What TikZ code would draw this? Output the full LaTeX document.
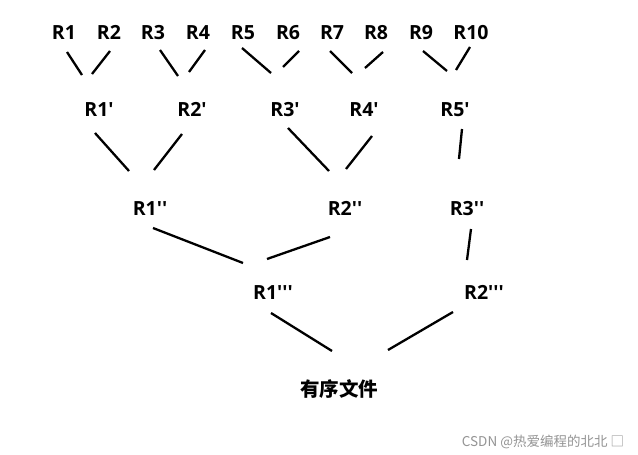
\documentclass[tikz,border=0pt]{standalone}
\usepackage{fontspec}
\usetikzlibrary{calc}
\newfontfamily\labf{Open Sans}
\newfontfamily\cjk{Noto Sans CJK SC}
\tikzset{
  lab/.style={inner sep=0pt, text height=14pt, text depth=0pt, anchor=center, font=\labf\bfseries\fontsize{19.5pt}{20pt}\selectfont},
  link/.style={line width=2.3pt, black},
  wm/.style={inner sep=0pt, anchor=base, text=black!42, font=\cjk\fontsize{13.5pt}{14pt}\selectfont}
}
\begin{document}
\begin{tikzpicture}[x=1pt,y=-1pt]
\useasboundingbox[fill=white] (0,0) rectangle (638,455);
% top row
\node[lab] (R1) at (64,32) {R1};
\node[lab] (R2) at (109,32) {R2};
\node[lab] (R3) at (153,32) {R3};
\node[lab] (R4) at (198,32) {R4};
\node[lab] (R5) at (243,32) {R5};
\node[lab] (R6) at (288,32) {R6};
\node[lab] (R7) at (332,32) {R7};
\node[lab] (R8) at (376,32) {R8};
\node[lab] (R9) at (421,32) {R9};
\node[lab] (R10) at (471,32) {R10};
% second row
\node[lab] (P1) at (99,109) {R1'};
\node[lab] (P2) at (192,109) {R2'};
\node[lab] (P3) at (285,109) {R3'};
\node[lab] (P4) at (364,109) {R4'};
\node[lab] (P5) at (455,109) {R5'};
% third row
\node[lab] (Q1) at (150,208) {R1''};
\node[lab] (Q2) at (345,208) {R2''};
\node[lab] (Q3) at (467,208) {R3''};
% fourth row
\node[lab] (T1) at (273,292) {R1'''};
\node[lab] (T2) at (484,292) {R2'''};
% result
\node[lab, font=\cjk\bfseries\fontsize{19.5pt}{20pt}\selectfont] (F) at (339,389) {有序文件};
% watermark
\node[wm] (W) at (543,446) {CSDN @热爱编程的北北 □};
% connectors
\draw[link] ($(R1)+(3,20)$) -- ($(P1)+(-17,-34)$);
\draw[link] ($(R2)+(1,19)$) -- ($(P1)+(-7,-35)$);
\draw[link] ($(R3)+(7,18)$) -- ($(P2)+(-14,-33)$);
\draw[link] ($(R4)+(7,18)$) -- ($(P2)+(-3,-37)$);
\draw[link] ($(R5)+(-1,16)$) -- ($(P3)+(-14,-36)$);
\draw[link] ($(R6)+(11,19)$) -- ($(P3)+(-2,-42)$);
\draw[link] ($(R7)+(-2,19)$) -- ($(P4)+(-12,-36)$);
\draw[link] ($(R8)+(7,20)$) -- ($(P4)+(1,-41)$);
\draw[link] ($(R9)+(2,19)$) -- ($(P5)+(-8,-38)$);
\draw[link] ($(R10)+(-1,15)$) -- ($(P5)+(1,-39)$);
\draw[link] ($(P1)+(-4,24)$) -- ($(Q1)+(-21,-37)$);
\draw[link] ($(P2)+(-10,25)$) -- ($(Q1)+(4,-38)$);
\draw[link] ($(P3)+(3,19)$) -- ($(Q2)+(-16,-37)$);
\draw[link] ($(P4)+(8,27)$) -- ($(Q2)+(1,-39)$);
\draw[link] ($(P5)+(7,20)$) -- ($(Q3)+(-8,-49)$);
\draw[link] ($(Q1)+(3,20)$) -- ($(T1)+(-30,-29)$);
\draw[link] ($(Q2)+(-15,29)$) -- ($(T1)+(-6,-33)$);
\draw[link] ($(Q3)+(4,21)$) -- ($(T2)+(-17,-32)$);
\draw[link] ($(T1)+(-2,21)$) -- ($(F)+(-7,-38)$);
\draw[link] ($(T2)+(-31,20)$) -- ($(F)+(49,-39)$);
\end{tikzpicture}
\end{document}
